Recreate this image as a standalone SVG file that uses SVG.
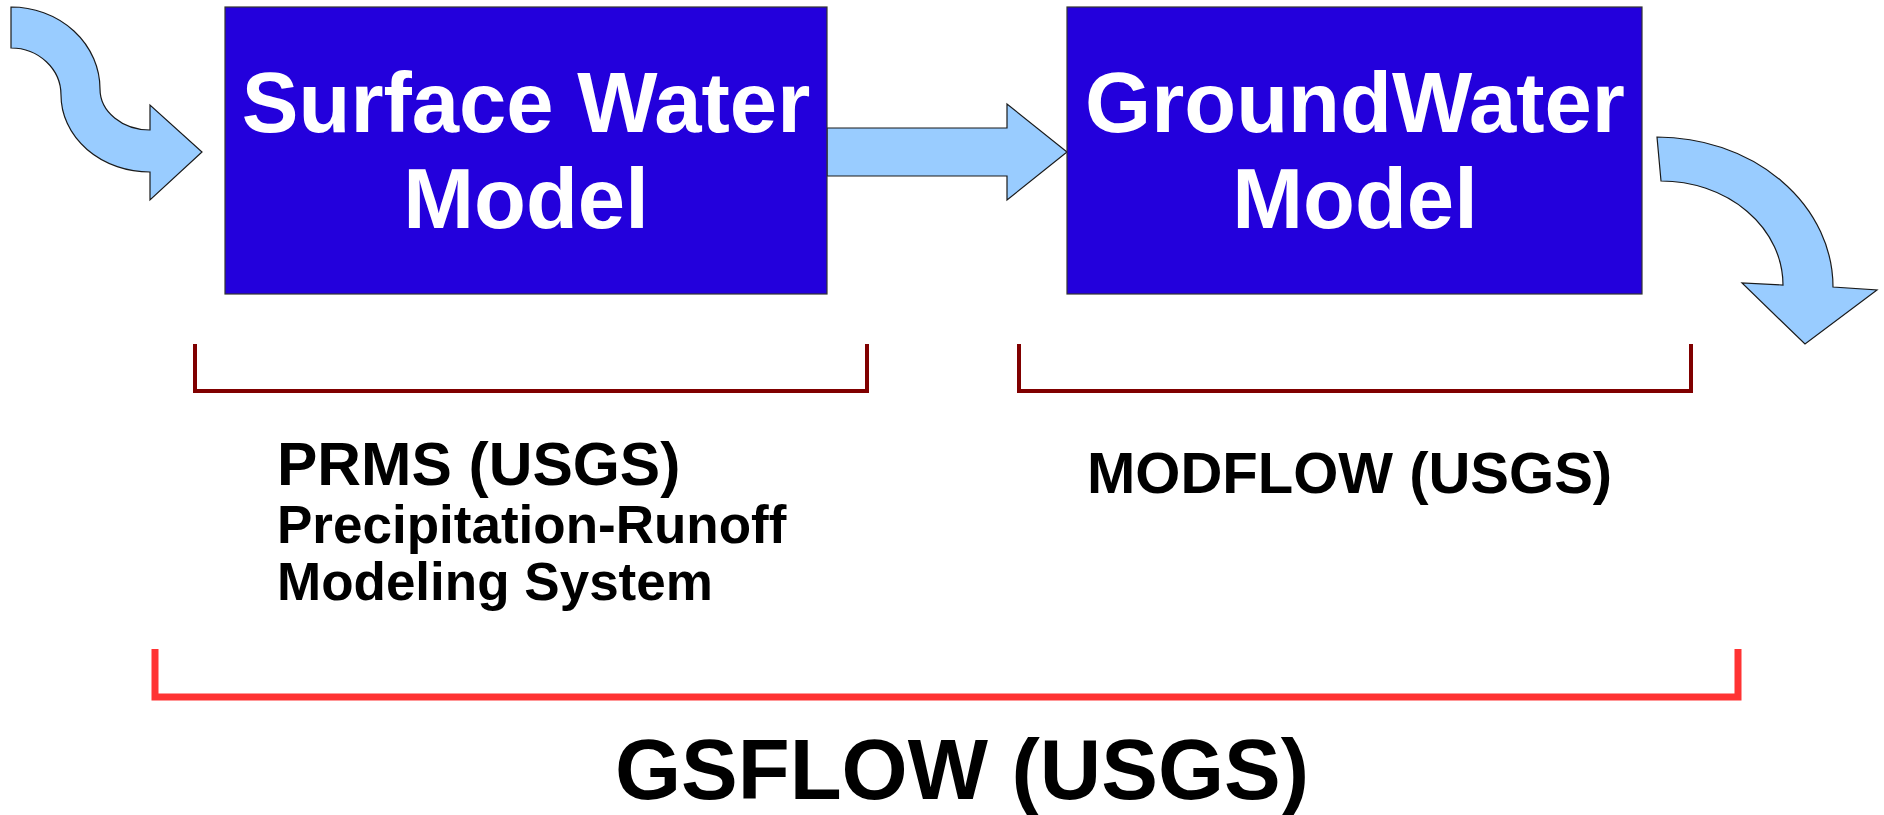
<svg xmlns="http://www.w3.org/2000/svg" width="1884" height="815" viewBox="0 0 1884 815">
<style>
.box{fill:#2300DC;stroke:#333333;stroke-width:1.2}
.arrow{fill:#99CCFF;stroke:#1a1a1a;stroke-width:1.2;stroke-linejoin:miter}
.bt{font-family:"Liberation Sans",Arial,sans-serif;font-weight:bold;fill:#ffffff;font-size:85px;text-anchor:middle}
.lbl{font-family:"Liberation Sans",Arial,sans-serif;font-weight:bold;fill:#000000}
.br1{fill:none;stroke:#800000;stroke-width:4}
.br2{fill:none;stroke:#FF3333;stroke-width:7}
</style>
<rect width="1884" height="815" fill="#ffffff"/>
<g id="connectors">
<path class="arrow" d="M 11 7 A 89 82 0 0 1 100 89 A 50 41 0 0 0 150 130 L 150 105 L 202 152 L 150 200 L 150 172 A 89 77 0 0 1 61 95 A 50 47 0 0 0 11 48 Z"/>
<path class="arrow" d="M 827 128 L 1007 128 L 1007 104 L 1067 152 L 1007 200 L 1007 176 L 827 176 Z"/>
<path class="arrow" d="M 1657 137 A 176 150 0 0 1 1833 287 L 1877 290 L 1805 344 L 1742 283 L 1783 285 A 122 104 0 0 0 1661 181 Z"/>
</g>
<g id="surface-water">
<rect class="box" x="225" y="7" width="602" height="287"/>
<text class="bt" x="526" y="132">Surface Water</text>
<text class="bt" x="526" y="228">Model</text>
</g>
<g id="groundwater">
<rect class="box" x="1067" y="7" width="575" height="287"/>
<text class="bt" x="1355" y="132">GroundWater</text>
<text class="bt" x="1355" y="228">Model</text>
</g>
<g id="prms">
<path class="br1" d="M 195 344 L 195 391 L 867 391 L 867 344"/>
<text class="lbl" x="277" y="485" font-size="60.5">PRMS (USGS)</text>
<text class="lbl" x="277" y="543" font-size="53">Precipitation-Runoff</text>
<text class="lbl" x="277" y="600" font-size="53">Modeling System</text>
</g>
<g id="modflow">
<path class="br1" d="M 1019 344 L 1019 391 L 1691 391 L 1691 344"/>
<text class="lbl" x="1087" y="493" font-size="58">MODFLOW (USGS)</text>
</g>
<g id="gsflow">
<path class="br2" d="M 155 649 L 155 697 L 1738 697 L 1738 649"/>
<text class="lbl" x="962" y="799" font-size="85" text-anchor="middle">GSFLOW (USGS)</text>
</g>
</svg>
